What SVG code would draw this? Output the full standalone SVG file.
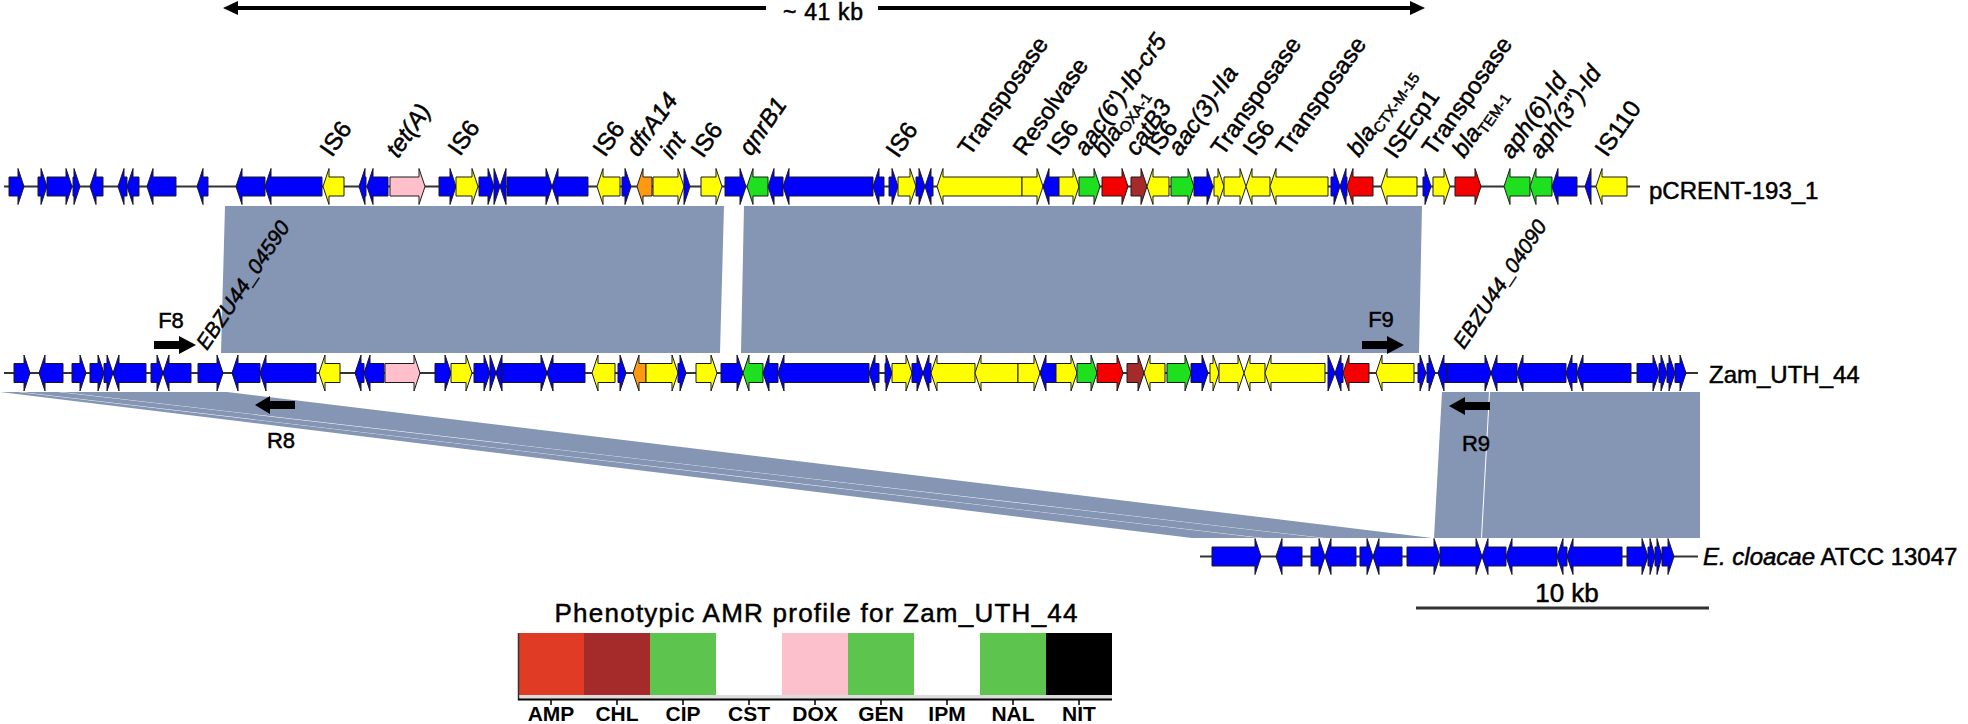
<svg xmlns="http://www.w3.org/2000/svg" width="1968" height="724" viewBox="0 0 1968 724">
<style>
.t{font-family:"Liberation Sans",Arial,sans-serif;fill:#000;stroke:#000;stroke-width:0.5}
.gl{font-size:24px}
.it{font-style:italic}
.sub{font-size:15px;font-style:normal}
.row path{stroke:#1a1a1a;stroke-width:1}
.bb{stroke:#333;stroke-width:2}
.b{fill:#0000ff}.y{fill:#ffff00}.g{fill:#1ee01e}.r{fill:#f40000}.br{fill:#a52a2a}.pk{fill:#ffc0cb}.o{fill:#ff9a10}
.rib{fill:#8596b4}
.pa{fill:#000}
</style>
<rect width="1968" height="724" fill="#fff"/>

<!-- connectors / similarity ribbons -->
<g id="connectors">
<polygon class="rib" points="225,206 724,206 720,353 221,353"/>
<polygon class="rib" points="744,206 1422,206 1419,353 741,353"/>
<polygon class="rib" points="1442,392 1489,392 1481,538 1434,538"/>
<polygon class="rib" points="1490,392 1700,392 1700,538 1482,538"/>
<polygon class="rib" points="0,392 18,392 1260,538 1192,538"/>
<polygon class="rib" points="21,392 58,392 1322,538 1263,538"/>
<polygon class="rib" points="61,392 227,392 1432,538 1325,538"/>
</g>

<!-- top span arrow -->
<g id="span41">
<line x1="236" y1="8" x2="766" y2="8" stroke="#000" stroke-width="4"/>
<line x1="878" y1="8" x2="1412" y2="8" stroke="#000" stroke-width="4"/>
<polygon points="223,8 238,1 238,15" fill="#000"/>
<polygon points="1425,8 1410,1 1410,15" fill="#000"/>
<text class="t" x="823" y="20" font-size="23" text-anchor="middle" textLength="80">~ 41 kb</text>
</g>

<!-- pCRENT-193_1 row -->
<g id="pCRENT" class="row" transform="translate(0 186.5)">
<line class="bb" x1="4" y1="0" x2="1640" y2="0"/>
<path class="b" d="M9 -9.5H18V-18L24 0L18 18V9.5H9Z"/>
<path class="b" d="M38 -9.5H41V-18L47 0L41 18V9.5H38Z"/>
<path class="b" d="M47 -9.5H66V-18L72 0L66 18V9.5H47Z"/>
<path class="b" d="M73 -9.5H74V-18L80 0L74 18V9.5H73Z"/>
<path class="b" d="M103 -9.5H96V-18L90 0L96 18V9.5H103Z"/>
<path class="b" d="M127 -9.5H124V-18L118 0L124 18V9.5H127Z"/>
<path class="b" d="M139 -9.5H133V-18L127 0L133 18V9.5H139Z"/>
<path class="b" d="M176 -9.5H153V-18L147 0L153 18V9.5H176Z"/>
<path class="b" d="M208 -9.5H203V-18L197 0L203 18V9.5H208Z"/>
<path class="b" d="M265 -9.5H242V-18L236 0L242 18V9.5H265Z"/>
<path class="b" d="M322 -9.5H271V-18L265 0L271 18V9.5H322Z"/>
<path class="y" d="M344 -9.5H329V-18L323 0L329 18V9.5H344Z"/>
<path class="b" d="M366 -9.5H365V-18L359 0L365 18V9.5H366Z"/>
<path class="b" d="M388 -9.5H373V-18L367 0L373 18V9.5H388Z"/>
<path class="pk" d="M390 -9.5H419V-18L425 0L419 18V9.5H390Z"/>
<path class="b" d="M439 -9.5H450V-18L456 0L450 18V9.5H439Z"/>
<path class="y" d="M456 -9.5H472V-18L478 0L472 18V9.5H456Z"/>
<path class="b" d="M479 -9.5H488V-18L494 0L488 18V9.5H479Z"/>
<path class="b" d="M494 -18L500 0L494 18Z"/>
<path class="b" d="M506 -18L500 0L506 18Z"/>
<path class="b" d="M507 -9.5H546V-18L552 0L546 18V9.5H507Z"/>
<path class="b" d="M588 -9.5H558V-18L552 0L558 18V9.5H588Z"/>
<path class="y" d="M620 -9.5H603V-18L597 0L603 18V9.5H620Z"/>
<path class="b" d="M622 -9.5H625V-18L631 0L625 18V9.5H622Z"/>
<path class="o" d="M652 -9.5H643V-18L637 0L643 18V9.5H652Z"/>
<path class="y" d="M653 -9.5H678V-18L684 0L678 18V9.5H653Z"/>
<path class="b" d="M684 -18L690 0L684 18Z"/>
<path class="y" d="M701 -9.5H716V-18L722 0L716 18V9.5H701Z"/>
<path class="b" d="M725 -9.5H740V-18L746 0L740 18V9.5H725Z"/>
<path class="g" d="M768 -9.5H753V-18L747 0L753 18V9.5H768Z"/>
<path class="b" d="M783 -9.5H774V-18L768 0L774 18V9.5H783Z"/>
<path class="b" d="M873 -9.5H789V-18L783 0L789 18V9.5H873Z"/>
<path class="b" d="M884 -9.5H879V-18L873 0L879 18V9.5H884Z"/>
<path class="b" d="M889 -9.5H892V-18L898 0L892 18V9.5H889Z"/>
<path class="y" d="M898 -9.5H910V-18L916 0L910 18V9.5H898Z"/>
<path class="b" d="M916 -9.5H919V-18L925 0L919 18V9.5H916Z"/>
<path class="b" d="M933 -9.5H931V-18L925 0L931 18V9.5H933Z"/>
<path class="y" d="M1022 -9.5H943V-18L937 0L943 18V9.5H1022Z"/>
<path class="y" d="M1022 -9.5H1037V-18L1043 0L1037 18V9.5H1022Z"/>
<path class="b" d="M1059 -9.5H1049V-18L1043 0L1049 18V9.5H1059Z"/>
<path class="y" d="M1059 -9.5H1073V-18L1079 0L1073 18V9.5H1059Z"/>
<path class="g" d="M1079 -9.5H1094V-18L1100 0L1094 18V9.5H1079Z"/>
<path class="r" d="M1102 -9.5H1122V-18L1128 0L1122 18V9.5H1102Z"/>
<path class="br" d="M1131 -9.5H1141V-18L1147 0L1141 18V9.5H1131Z"/>
<path class="y" d="M1169 -9.5H1153V-18L1147 0L1153 18V9.5H1169Z"/>
<path class="g" d="M1171 -9.5H1188V-18L1194 0L1188 18V9.5H1171Z"/>
<path class="b" d="M1194 -9.5H1207V-18L1213 0L1207 18V9.5H1194Z"/>
<path class="y" d="M1214 -9.5H1218V-18L1224 0L1218 18V9.5H1214Z"/>
<path class="y" d="M1224 -9.5H1240V-18L1246 0L1240 18V9.5H1224Z"/>
<path class="y" d="M1270 -9.5H1252V-18L1246 0L1252 18V9.5H1270Z"/>
<path class="y" d="M1328 -9.5H1276V-18L1270 0L1276 18V9.5H1328Z"/>
<path class="b" d="M1331 -9.5H1334V-18L1340 0L1334 18V9.5H1331Z"/>
<path class="b" d="M1347 -9.5H1346V-18L1340 0L1346 18V9.5H1347Z"/>
<path class="r" d="M1373 -9.5H1353V-18L1347 0L1353 18V9.5H1373Z"/>
<path class="y" d="M1417 -9.5H1387V-18L1381 0L1387 18V9.5H1417Z"/>
<path class="b" d="M1423 -9.5H1425V-18L1431 0L1425 18V9.5H1423Z"/>
<path class="y" d="M1433 -9.5H1444V-18L1450 0L1444 18V9.5H1433Z"/>
<path class="r" d="M1455 -9.5H1475V-18L1481 0L1475 18V9.5H1455Z"/>
<path class="g" d="M1530 -9.5H1510V-18L1504 0L1510 18V9.5H1530Z"/>
<path class="g" d="M1552 -9.5H1536V-18L1530 0L1536 18V9.5H1552Z"/>
<path class="b" d="M1577 -9.5H1558V-18L1552 0L1558 18V9.5H1577Z"/>
<path class="b" d="M1591 -18L1585 0L1591 18Z"/>
<path class="y" d="M1627 -9.5H1602V-18L1596 0L1602 18V9.5H1627Z"/>
</g>
<text id="lbl-pCRENT" class="t" x="1649" y="199" font-size="24">pCRENT-193_1</text>

<!-- gene labels top row -->
<g id="toplabels" class="t gl">
<text transform="translate(332 158) rotate(-55)">IS6</text>
<text class="it" transform="translate(398 159) rotate(-55)">tet(A)</text>
<text transform="translate(460 157) rotate(-55)">IS6</text>
<text transform="translate(605 158) rotate(-55)">IS6</text>
<text class="it" transform="translate(638 158) rotate(-55)">dfrA14</text>
<text class="it" transform="translate(672 160) rotate(-55)">int</text>
<text transform="translate(703 159) rotate(-55)">IS6</text>
<text class="it" transform="translate(751 157) rotate(-55)">qnrB1</text>
<text transform="translate(898 159) rotate(-55)">IS6</text>
<text transform="translate(970 157) rotate(-55)">Transposase</text>
<text transform="translate(1025 157) rotate(-55)">Resolvase</text>
<text transform="translate(1059 157) rotate(-55)">IS6</text>
<text class="it" transform="translate(1086 157) rotate(-55)">aac(6')-Ib-cr5</text>
<text transform="translate(1105 158) rotate(-55)"><tspan class="it">bla</tspan><tspan class="sub" dy="4">OXA-1</tspan></text>
<text class="it" transform="translate(1137 157) rotate(-55)">catB3</text>
<text transform="translate(1158 157) rotate(-55)">IS6</text>
<text class="it" transform="translate(1180 157) rotate(-55)">aac(3)-IIa</text>
<text transform="translate(1223 157) rotate(-55)">Transposase</text>
<text transform="translate(1255 157) rotate(-55)">IS6</text>
<text transform="translate(1288 157) rotate(-55)">Transposase</text>
<text transform="translate(1359 158) rotate(-55)"><tspan class="it">bla</tspan><tspan class="sub" dy="4">CTX-M-15</tspan></text>
<text transform="translate(1396 160) rotate(-55)">ISEcp1</text>
<text transform="translate(1434 157) rotate(-55)">Transposase</text>
<text transform="translate(1464 159) rotate(-55)"><tspan class="it">bla</tspan><tspan class="sub" dy="4">TEM-1</tspan></text>
<text class="it" transform="translate(1512 160) rotate(-55)">aph(6)-Id</text>
<text class="it" transform="translate(1541 160) rotate(-55)">aph(3'')-Id</text>
<text transform="translate(1607 158) rotate(-55)">IS110</text>
</g>

<!-- Zam_UTH_44 row -->
<g id="ZamUTH44" class="row" transform="translate(0 373)">
<line class="bb" x1="4" y1="0" x2="1698" y2="0"/>
<path class="b" d="M14 -9.5H24V-18L30 0L24 18V9.5H14Z"/>
<path class="b" d="M63 -9.5H45V-18L39 0L45 18V9.5H63Z"/>
<path class="b" d="M72 -9.5H80V-18L86 0L80 18V9.5H72Z"/>
<path class="b" d="M90 -9.5H98V-18L104 0L98 18V9.5H90Z"/>
<path class="b" d="M104 -9.5H107V-18L113 0L107 18V9.5H104Z"/>
<path class="b" d="M146 -9.5H119V-18L113 0L119 18V9.5H146Z"/>
<path class="b" d="M151 -9.5H157V-18L163 0L157 18V9.5H151Z"/>
<path class="b" d="M191 -9.5H169V-18L163 0L169 18V9.5H191Z"/>
<path class="b" d="M198 -9.5H217V-18L223 0L217 18V9.5H198Z"/>
<path class="b" d="M260 -9.5H238V-18L232 0L238 18V9.5H260Z"/>
<path class="b" d="M316 -9.5H266V-18L260 0L266 18V9.5H316Z"/>
<path class="y" d="M340 -9.5H325V-18L319 0L325 18V9.5H340Z"/>
<path class="b" d="M364 -9.5H361V-18L355 0L361 18V9.5H364Z"/>
<path class="b" d="M384 -9.5H370V-18L364 0L370 18V9.5H384Z"/>
<path class="pk" d="M385 -9.5H414V-18L420 0L414 18V9.5H385Z"/>
<path class="b" d="M435 -9.5H445V-18L451 0L445 18V9.5H435Z"/>
<path class="y" d="M451 -9.5H466V-18L472 0L466 18V9.5H451Z"/>
<path class="b" d="M474 -9.5H484V-18L490 0L484 18V9.5H474Z"/>
<path class="b" d="M490 -18L496 0L490 18Z"/>
<path class="b" d="M502 -18L496 0L502 18Z"/>
<path class="b" d="M502 -9.5H541V-18L547 0L541 18V9.5H502Z"/>
<path class="b" d="M585 -9.5H553V-18L547 0L553 18V9.5H585Z"/>
<path class="y" d="M615 -9.5H598V-18L592 0L598 18V9.5H615Z"/>
<path class="b" d="M618 -9.5H620V-18L626 0L620 18V9.5H618Z"/>
<path class="o" d="M646 -9.5H639V-18L633 0L639 18V9.5H646Z"/>
<path class="y" d="M646 -9.5H672V-18L678 0L672 18V9.5H646Z"/>
<path class="b" d="M678 -9.5H680V-18L686 0L680 18V9.5H678Z"/>
<path class="y" d="M696 -9.5H711V-18L717 0L711 18V9.5H696Z"/>
<path class="b" d="M721 -9.5H737V-18L743 0L737 18V9.5H721Z"/>
<path class="g" d="M763 -9.5H749V-18L743 0L749 18V9.5H763Z"/>
<path class="b" d="M778 -9.5H769V-18L763 0L769 18V9.5H778Z"/>
<path class="b" d="M869 -9.5H784V-18L778 0L784 18V9.5H869Z"/>
<path class="b" d="M879 -9.5H875V-18L869 0L875 18V9.5H879Z"/>
<path class="b" d="M885 -9.5H886V-18L892 0L886 18V9.5H885Z"/>
<path class="y" d="M892 -9.5H906V-18L912 0L906 18V9.5H892Z"/>
<path class="b" d="M912 -9.5H917V-18L923 0L917 18V9.5H912Z"/>
<path class="b" d="M931 -9.5H929V-18L923 0L929 18V9.5H931Z"/>
<path class="y" d="M975 -9.5H937V-18L931 0L937 18V9.5H975Z"/>
<path class="y" d="M1018 -9.5H981V-18L975 0L981 18V9.5H1018Z"/>
<path class="y" d="M1018 -9.5H1034V-18L1040 0L1034 18V9.5H1018Z"/>
<path class="b" d="M1056 -9.5H1046V-18L1040 0L1046 18V9.5H1056Z"/>
<path class="y" d="M1056 -9.5H1071V-18L1077 0L1071 18V9.5H1056Z"/>
<path class="g" d="M1077 -9.5H1091V-18L1097 0L1091 18V9.5H1077Z"/>
<path class="r" d="M1097 -9.5H1117V-18L1123 0L1117 18V9.5H1097Z"/>
<path class="br" d="M1127 -9.5H1138V-18L1144 0L1138 18V9.5H1127Z"/>
<path class="y" d="M1165 -9.5H1150V-18L1144 0L1150 18V9.5H1165Z"/>
<path class="g" d="M1167 -9.5H1185V-18L1191 0L1185 18V9.5H1167Z"/>
<path class="b" d="M1191 -9.5H1202V-18L1208 0L1202 18V9.5H1191Z"/>
<path class="y" d="M1210 -9.5H1213V-18L1219 0L1213 18V9.5H1210Z"/>
<path class="y" d="M1219 -9.5H1238V-18L1244 0L1238 18V9.5H1219Z"/>
<path class="y" d="M1265 -9.5H1250V-18L1244 0L1250 18V9.5H1265Z"/>
<path class="y" d="M1325 -9.5H1271V-18L1265 0L1271 18V9.5H1325Z"/>
<path class="b" d="M1328 -18L1335 0L1328 18Z"/>
<path class="b" d="M1343 -9.5H1341V-18L1335 0L1341 18V9.5H1343Z"/>
<path class="r" d="M1369 -9.5H1349V-18L1343 0L1349 18V9.5H1369Z"/>
<path class="y" d="M1414 -9.5H1382V-18L1376 0L1382 18V9.5H1414Z"/>
<path class="b" d="M1418 -9.5H1420V-18L1426 0L1420 18V9.5H1418Z"/>
<path class="b" d="M1427 -9.5H1429V-18L1435 0L1429 18V9.5H1427Z"/>
<path class="b" d="M1447 -9.5H1444V-18L1438 0L1444 18V9.5H1447Z"/>
<path class="b" d="M1447 -9.5H1485V-18L1491 0L1485 18V9.5H1447Z"/>
<path class="b" d="M1517 -9.5H1497V-18L1491 0L1497 18V9.5H1517Z"/>
<path class="b" d="M1566 -9.5H1523V-18L1517 0L1523 18V9.5H1566Z"/>
<path class="b" d="M1577 -9.5H1572V-18L1566 0L1572 18V9.5H1577Z"/>
<path class="b" d="M1631 -9.5H1583V-18L1577 0L1583 18V9.5H1631Z"/>
<path class="b" d="M1637 -9.5H1653V-18L1659 0L1653 18V9.5H1637Z"/>
<path class="b" d="M1659 -9.5H1661V-18L1667 0L1661 18V9.5H1659Z"/>
<path class="b" d="M1667 -9.5H1669V-18L1675 0L1669 18V9.5H1667Z"/>
<path class="b" d="M1675 -9.5H1680V-18L1686 0L1680 18V9.5H1675Z"/>
</g>
<text id="lbl-Zam" class="t" x="1709" y="383" font-size="24">Zam_UTH_44</text>
<text id="lbl-04590" class="t it" font-size="21" transform="translate(207 351) rotate(-56)">EBZU44_04590</text>
<text id="lbl-04090" class="t it" font-size="21" transform="translate(1464 350) rotate(-56)">EBZU44_04090</text>

<!-- primers -->
<g id="F8"><polygon class="pa" points="154,341 179,341 179,336 196,345 179,354 179,349 154,349"/><text class="t" x="171" y="328" font-size="22" text-anchor="middle">F8</text></g>
<g id="R8"><polygon class="pa" points="295,401 270,401 270,396 255,405 270,414 270,409 295,409"/><text class="t" x="281" y="448" font-size="22" text-anchor="middle">R8</text></g>
<g id="F9"><polygon class="pa" points="1362,341 1387,341 1387,336 1404,345 1387,354 1387,349 1362,349"/><text class="t" x="1381" y="327" font-size="22" text-anchor="middle">F9</text></g>
<g id="R9"><polygon class="pa" points="1490,402 1465,402 1465,397 1449,406 1465,415 1465,410 1490,410"/><text class="t" x="1476" y="451" font-size="22" text-anchor="middle">R9</text></g>

<!-- E. cloacae row -->
<g id="Ecloacae" class="row" transform="translate(0 556.5)">
<line class="bb" x1="1200" y1="0" x2="1698" y2="0"/>
<path class="b" d="M1212 -9.5H1255V-18L1261 0L1255 18V9.5H1212Z"/>
<path class="b" d="M1302 -9.5H1282V-18L1276 0L1282 18V9.5H1302Z"/>
<path class="b" d="M1311 -9.5H1319V-18L1325 0L1319 18V9.5H1311Z"/>
<path class="b" d="M1356 -9.5H1331V-18L1325 0L1331 18V9.5H1356Z"/>
<path class="b" d="M1360 -9.5H1367V-18L1373 0L1367 18V9.5H1360Z"/>
<path class="b" d="M1402 -9.5H1379V-18L1373 0L1379 18V9.5H1402Z"/>
<path class="b" d="M1407 -9.5H1434V-18L1440 0L1434 18V9.5H1407Z"/>
<path class="b" d="M1440 -9.5H1476V-18L1482 0L1476 18V9.5H1440Z"/>
<path class="b" d="M1506 -9.5H1488V-18L1482 0L1488 18V9.5H1506Z"/>
<path class="b" d="M1557 -9.5H1512V-18L1506 0L1512 18V9.5H1557Z"/>
<path class="b" d="M1567 -9.5H1563V-18L1557 0L1563 18V9.5H1567Z"/>
<path class="b" d="M1622 -9.5H1573V-18L1567 0L1573 18V9.5H1622Z"/>
<path class="b" d="M1627 -9.5H1642V-18L1648 0L1642 18V9.5H1627Z"/>
<path class="b" d="M1648 -9.5H1650V-18L1655 0L1650 18V9.5H1648Z"/>
<path class="b" d="M1655 -9.5H1657V-18L1662 0L1657 18V9.5H1655Z"/>
<path class="b" d="M1662 -9.5H1668V-18L1674 0L1668 18V9.5H1662Z"/>
</g>
<text id="lbl-Ecl" class="t" x="1703" y="565" font-size="24"><tspan class="it">E. cloacae</tspan> ATCC 13047</text>

<!-- scale bar -->
<g id="scalebar">
<text class="t" x="1567" y="602" font-size="26" text-anchor="middle">10 kb</text>
<line x1="1416" y1="608" x2="1709" y2="608" stroke="#333" stroke-width="3"/>
</g>

<!-- AMR legend -->
<g id="amr">
<text class="t" x="816" y="622" font-size="26" text-anchor="middle" textLength="523">Phenotypic AMR profile for Zam_UTH_44</text>
<rect x="518" y="633" width="66" height="62" fill="#e03c25"/>
<rect x="584" y="633" width="66" height="62" fill="#a52a2a"/>
<rect x="650" y="633" width="66" height="62" fill="#5dc54d"/>
<rect x="716" y="633" width="66" height="62" fill="#fff"/>
<rect x="782" y="633" width="66" height="62" fill="#fbc0cc"/>
<rect x="848" y="633" width="66" height="62" fill="#5dc54d"/>
<rect x="914" y="633" width="66" height="62" fill="#fff"/>
<rect x="980" y="633" width="66" height="62" fill="#5dc54d"/>
<rect x="1046" y="633" width="66" height="62" fill="#000"/>
<rect x="518" y="695" width="594" height="4" fill="#dcdcdc"/>
<line x1="518.5" y1="633" x2="518.5" y2="700" stroke="#333" stroke-width="1.5"/>
<line x1="518" y1="699.5" x2="1112" y2="699.5" stroke="#000" stroke-width="2"/>
<path d="M551 699V705M617 699V705M683 699V705M749 699V705M815 699V705M881 699V705M947 699V705M1013 699V705M1079 699V705" stroke="#000" stroke-width="1.5"/>
<g class="t" font-size="21" font-weight="bold" text-anchor="middle" style="stroke-width:0">
<text x="551" y="721">AMP</text><text x="617" y="721">CHL</text><text x="683" y="721">CIP</text><text x="749" y="721">CST</text><text x="815" y="721">DOX</text><text x="881" y="721">GEN</text><text x="947" y="721">IPM</text><text x="1013" y="721">NAL</text><text x="1079" y="721">NIT</text>
</g>
</g>
</svg>
